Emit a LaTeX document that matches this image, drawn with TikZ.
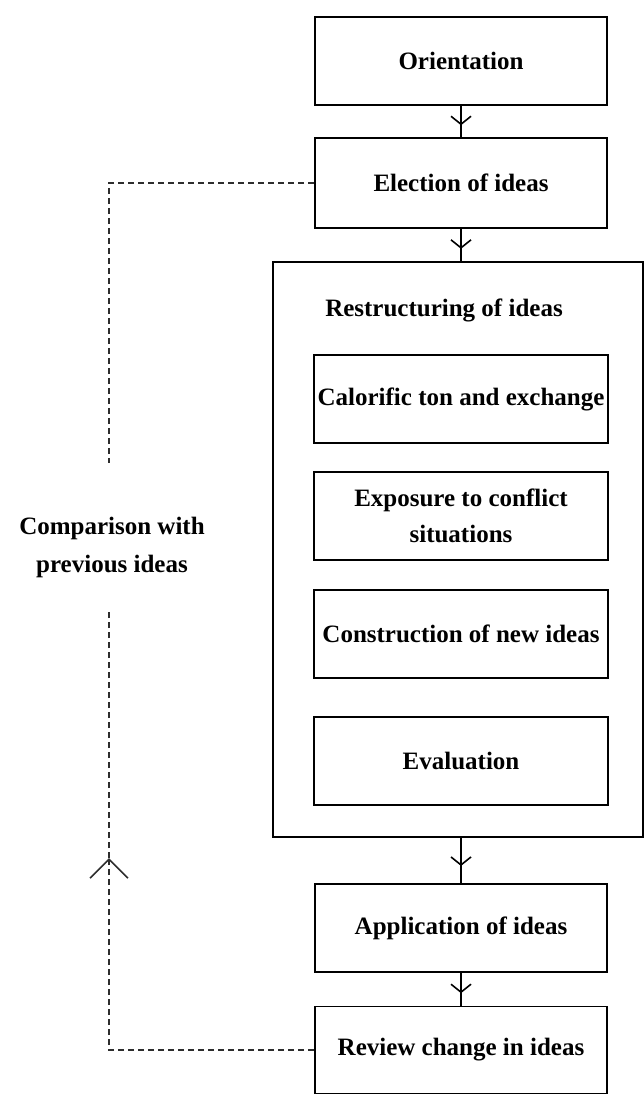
\documentclass[tikz,border=0pt]{standalone}
\usepackage{fontspec}
\setmainfont{Liberation Serif}
\usepackage{tikz}
\usetikzlibrary{arrows.meta,decorations.markings}
\definecolor{mydash}{RGB}{45,45,45}

\tikzset{
  stage/.style={draw,line width=1.6pt,minimum width=292pt,minimum height=88pt,
    inner sep=0pt,align=center,font=\fontsize{25}{36}\selectfont\bfseries},
  midarrow/.style={line width=1.6pt,postaction={decorate},
    decoration={markings,mark=at position 0.62 with {\arrow{Straight Barb[length=8pt,width=20pt]}}}},
  fbline/.style={line width=1.6pt,mydash,dash pattern=on 6pt off 4pt},
}

\begin{document}
\begin{tikzpicture}[x=1pt,y=-1pt]
\useasboundingbox (0,0) rectangle (644,1095);

% main stages
\node[stage] (orient) at (461,61) {Orientation};
\node[stage,minimum height=90pt] (elect) at (461,183) {Election of ideas};

% restructuring block
\node[draw,line width=1.6pt,minimum width=370pt,minimum height=575pt,inner sep=0pt] (restr) at (458,549.5) {};
\node[font=\fontsize{25}{36}\selectfont\bfseries] (restrtitle) at (444,310) {Restructuring of ideas};
\node[stage,minimum width=294pt] (calor) at (461,399) {Calorific ton and exchange};
\node[stage,minimum width=294pt] (expos) at (461,516) {Exposure to conflict\\situations};
\node[stage,minimum width=294pt] (constr) at (461,634) {Construction of new ideas};
\node[stage,minimum width=294pt] (evalu) at (461,761) {Evaluation};

\node[stage] (applic) at (461,928) {Application of ideas};
\node[stage,minimum height=87pt] (review) at (461,1050) {Review change in ideas};

% flow
\foreach \a/\b in {orient/elect,elect/restr,restr/applic,applic/review}{
  \draw[midarrow] (\a.south -| orient.south) -- (\b.north -| orient.south);
}

% feedback loop
\coordinate (gaptop) at (109,463);
\coordinate (gapbot) at (109,612);
\coordinate (fbtip) at (109,858);
\draw[fbline] (elect.west) -| (gaptop);
\draw[fbline,-{Straight Barb[length=19pt,width=38pt]}] (review.west) -| (fbtip);
\draw[fbline] (fbtip) -- (gapbot);
\node[align=center,font=\fontsize{25}{38}\selectfont\bfseries] (compare) at (112,547) {Comparison with\\previous ideas};

\end{tikzpicture}
\end{document}
